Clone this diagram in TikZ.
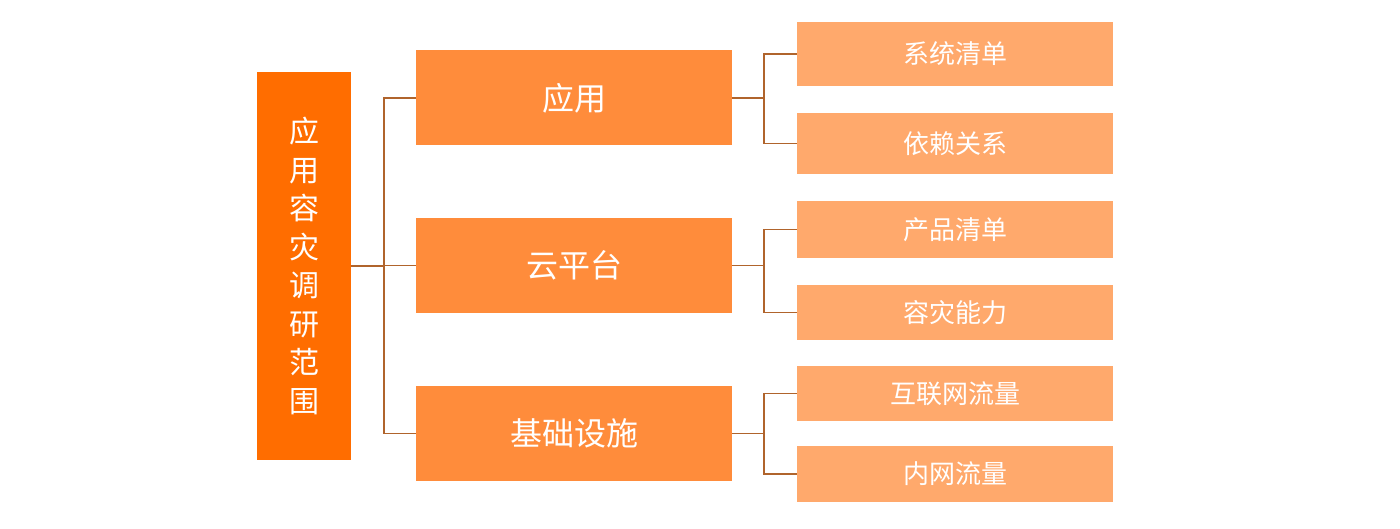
\documentclass[tikz,border=0pt]{standalone}
\usepackage{fontspec}
\setmainfont{Noto Sans CJK SC}
\begin{document}
\begin{tikzpicture}[x=1pt,y=-1pt,
  rootbox/.style={fill=rootc,text=white,inner sep=0pt,font=\fontsize{30}{38.5}\selectfont,align=center},
  midbox/.style={fill=midc,text=white,minimum width=316pt,minimum height=95pt,inner sep=0pt,font=\fontsize{32}{36}\selectfont},
  leafbox/.style={fill=leafc,text=white,minimum width=316pt,inner sep=0pt,font=\fontsize{26}{30}\selectfont},
  link/.style={draw=linec,line width=1.5pt}]
\definecolor{rootc}{HTML}{FF6D00}
\definecolor{midc}{HTML}{FF8C3B}
\definecolor{leafc}{HTML}{FFA96C}
\definecolor{linec}{HTML}{B0642C}
\useasboundingbox (0,0) rectangle (1400,529);
\node[rootbox,minimum width=94pt,minimum height=388pt] (root) at (304,266) {应\\用\\容\\灾\\调\\研\\范\\围};
\node[midbox] (m1) at (574,98) {应用};
\node[midbox] (m2) at (574,265.5) {云平台};
\node[midbox] (m3) at (574,433.5) {基础设施};
\node[leafbox,minimum height=64pt] (l1) at (955,54) {系统清单};
\node[leafbox,minimum height=61pt] (l2) at (955,143.5) {依赖关系};
\node[leafbox,minimum height=57pt] (l3) at (955,229.5) {产品清单};
\node[leafbox,minimum height=55pt] (l4) at (955,312.5) {容灾能力};
\node[leafbox,minimum height=55pt] (l5) at (955,393.5) {互联网流量};
\node[leafbox,minimum height=56pt] (l6) at (955,474) {内网流量};
\coordinate (j0) at (384,266);
\draw[link] (root.east |- j0) -- (j0);
\draw[link] (m1.west) -- ++(-32,0) |- (m3.west);
\draw[link] (m2.west) -- (m2.west -| j0);
\foreach \m/\a/\b in {m1/l1/l2, m2/l3/l4, m3/l5/l6} {
  \draw[link] (\m.east) -- ++(32,0) coordinate (j\m);
  \draw[link] (\a.west) -| (j\m) |- (\b.west);
}
\end{tikzpicture}
\end{document}
